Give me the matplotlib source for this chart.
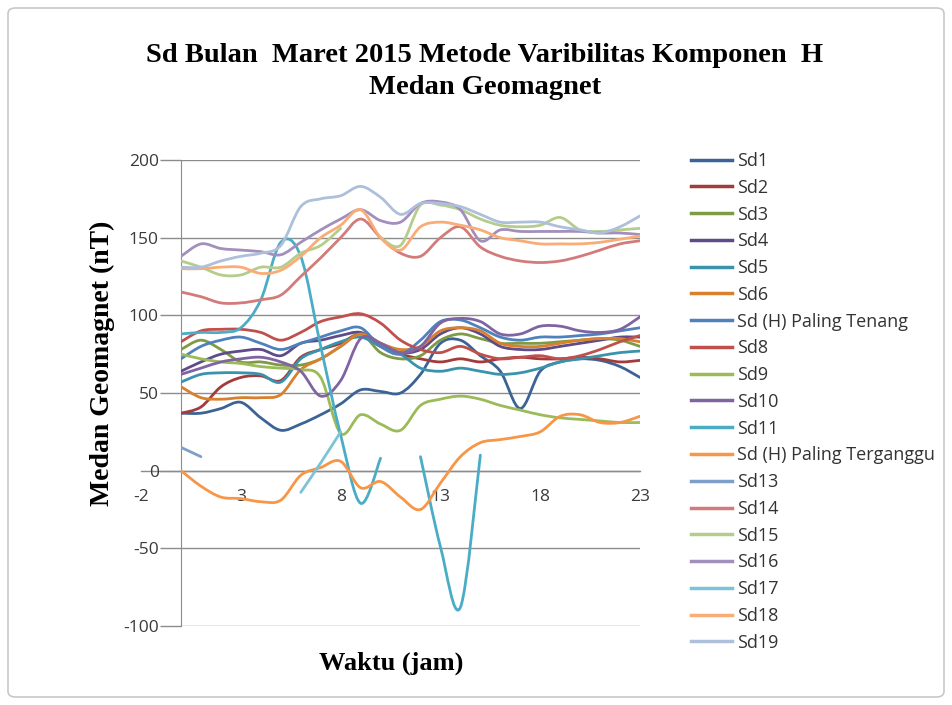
import numpy as np
import matplotlib
matplotlib.use("Agg")
import matplotlib.pyplot as plt
from matplotlib.path import Path
from matplotlib.patches import PathPatch, FancyBboxPatch
from matplotlib.lines import Line2D

plt.rcParams["axes.unicode_minus"] = False

N = None
hours = list(range(24))

sd1 = [37, 37, 40, 44, 34, 26, 30, 36, 43, 52, 51, 50, 62, 82, 84, 74, 64, 40, 64, 70, 72, 71, 67, 60]
sd2 = [37, 41, 54, 60, 61, 58, 73, 78, 82, 88, 80, 75, 72, 70, 72, 70, 72, 73, 72, 72, 73, 72, 70, 71]
sd3 = [78, 84, 78, 70, 70, 68, 68, 72, 80, 88, 76, 72, 74, 84, 88, 85, 82, 82, 82, 83, 84, 85, 84, 80]
sd4 = [64, 70, 75, 77, 78, 74, 82, 84, 87, 89, 82, 76, 78, 88, 92, 88, 80, 78, 78, 80, 82, 84, 86, 86]
sd5 = [57, 62, 63, 63, 62, 57, 72, 78, 83, 86, 80, 75, 66, 64, 66, 64, 62, 63, 66, 70, 72, 74, 76, 77]
sd6 = [54, 47, 46, 47, 47, 49, 65, 72, 80, 88, 82, 78, 80, 90, 92, 90, 82, 80, 80, 82, 84, 85, 85, 83]
sd7 = [72, 80, 84, 86, 82, 78, 82, 86, 90, 92, 80, 75, 84, 96, 97, 92, 86, 84, 86, 86, 87, 88, 90, 92]
sd8 = [83, 90, 91, 91, 89, 84, 89, 96, 99, 101, 95, 84, 78, 76, 80, 75, 72, 73, 74, 72, 74, 78, 83, 87]
sd9 = [75, 72, 70, 69, 67, 66, 65, 60, 24, 36, 30, 26, 42, 46, 48, 46, 42, 39, 36, 34, 33, 32, 31, 31]
sd10 = [62, 66, 70, 72, 73, 70, 64, 48, 58, 85, 82, 76, 80, 95, 98, 96, 88, 88, 93, 93, 90, 89, 91, 99]
sd11 = [88, 89, 89, 92, 110, 147, 138, 80, 23, -21, 8, N, 9, -49, -88, 10, N, N, N, N, N, N, N, N]
sd12 = [0, -10, -17, -18, -20, -19, -3, 2, 6, -11, -7, -17, -25, -8, 9, 18, 20, 22, 25, 35, 36, 31, 31, 35]
sd13 = [15, 9, N, N, N, N, N, N, N, N, N, N, N, N, N, N, N, N, N, N, N, N, N, N]
sd14 = [115, 112, 108, 108, 110, 113, 125, 137, 150, 162, 150, 140, 138, 150, 157, 144, 138, 135, 134, 135, 138, 142, 146, 148]
sd15 = [135, 131, 126, 126, 131, 131, 140, 145, 156, N, 150, 145, 171, 171, 168, 162, 158, 157, 158, 163, 155, 154, 155, 156]
sd16 = [138, 146, 143, 142, 141, 139, 147, 155, 162, 168, 161, 160, 172, 173, 168, 148, 155, 154, 154, 154, 154, 153, 153, 152]
sd17 = [N, N, N, N, N, N, -14, 5, 25, N, N, N, N, N, N, N, N, N, N, N, N, N, N, N]
sd18 = [130, 130, 131, 131, 127, 129, 138, 150, 158, 168, 150, 142, 157, 160, 158, 155, 150, 148, 146, 146, 146, 147, 149, 151]
sd19 = [131, 131, 135, 138, 140, 145, 170, 175, 177, 183, 176, 165, 172, 172, 170, 165, 160, 160, 160, 157, 155, 153, 157, 164]

labels = ["Sd1", "Sd2", "Sd3", "Sd4", "Sd5", "Sd6", "Sd (H) Paling Tenang", "Sd8", "Sd9",
          "Sd10", "Sd11", "Sd (H) Paling Terganggu", "Sd13", "Sd14", "Sd15", "Sd16",
          "Sd17", "Sd18", "Sd19"]
series = [sd1, sd2, sd3, sd4, sd5, sd6, sd7, sd8, sd9, sd10, sd11, sd12, sd13, sd14,
          sd15, sd16, sd17, sd18, sd19]
colors = ["#3B6396", "#A33B3A", "#7E9B44", "#5F4B87", "#3A93AC", "#D9802E",
          "#4F81BD", "#C0504D", "#9BBB59", "#8064A2", "#4BACC6", "#F79646",
          "#7F9FCB", "#D27B7A", "#B5CD8C", "#A28FBB", "#7CC3D8", "#F9AC75", "#AEBFDB"]

xticks = [-2, 3, 8, 13, 18, 23]
yticks = [-100, -50, 0, 50, 100, 150, 200]

W, H = 952, 705
fig = plt.figure(figsize=(W / 100, H / 100), dpi=100)
ax = fig.add_axes([181 / W, 1 - 626 / H, (640 - 181) / W, (626 - 160) / H])
ax.set_xlim(0, 23)
ax.set_ylim(-100, 200)

grid_c = "#8C8C8C"
for y in yticks:
    ax.axhline(y, color=grid_c, lw=1.0, zorder=1)
ax.plot([-2, 23], [0, 0], color=grid_c, lw=1.0, clip_on=False, zorder=1)
for s in ["top", "right", "bottom"]:
    ax.spines[s].set_visible(False)
ax.spines["left"].set_color(grid_c)
ax.set_xticks([])
ax.set_yticks(yticks)
ax.tick_params(axis="y", length=15, color=grid_c, width=1.0, pad=1,
               labelsize=12.5, labelcolor="#3A3A3A")
for lab in ax.get_yticklabels():
    lab.set_fontfamily("Open Sans")

for xt in xticks:
    ax.text(xt, -17, str(xt), ha="center", va="center", fontsize=12.5,
            color="#3A3A3A", family="Open Sans", clip_on=False)


def segments(vals):
    seg = []
    for h, v in zip(hours, vals):
        if v is None:
            if seg:
                yield seg
            seg = []
        else:
            seg.append((h, v))
    if seg:
        yield seg


def smooth(points):
    pts = np.array(points, dtype=float)
    n = len(pts)
    verts = [pts[0]]
    codes = [Path.MOVETO]
    for i in range(n - 1):
        p0 = pts[i - 1] if i > 0 else pts[i]
        p1 = pts[i]
        p2 = pts[i + 1]
        p3 = pts[i + 2] if i + 2 < n else pts[i + 1]
        verts += [p1 + (p2 - p0) / 6.0, p2 - (p3 - p1) / 6.0, p2]
        codes += [Path.CURVE4] * 3
    return Path(verts, codes)


handles = []
for vals, c, lab in zip(series, colors, labels):
    for seg in segments(vals):
        if len(seg) < 2:
            continue
        patch = PathPatch(smooth(seg), facecolor="none", edgecolor=c, lw=2.0,
                          capstyle="round", joinstyle="round", zorder=3)
        ax.add_patch(patch)
    handles.append(Line2D([], [], color=c, lw=2.5))

leg = fig.legend(handles, labels, loc="upper left", bbox_to_anchor=(691 / W, 1 - 152 / H),
                 frameon=False, handlelength=2.27, handletextpad=0.28,
                 labelspacing=0.485, borderaxespad=0, borderpad=0,
                 prop={"family": "Open Sans", "size": 13})
for t in leg.get_texts():
    t.set_color("#333333")

fig.text(485 / W, 1 - 55 / H, "Sd Bulan  Maret 2015 Metode Varibilitas Komponen  H",
         ha="center", va="center", fontsize=20.5, fontweight="bold", family="Liberation Serif")
fig.text(485 / W, 1 - 88 / H, "Medan Geomagnet",
         ha="center", va="center", fontsize=20.5, fontweight="bold", family="Liberation Serif")
fig.text(102 / W, 1 - 363 / H, "Medan Geomagnet (nT)", rotation=90, ha="center", va="center",
         fontsize=20, fontweight="bold", family="Liberation Serif")
fig.text(391 / W, 1 - 663 / H, "Waktu (jam)", ha="center", va="center",
         fontsize=19, fontweight="bold", family="Liberation Serif")

frame = FancyBboxPatch((8 / W, 8 / H), (W - 16) / W, (H - 16) / H,
                       boxstyle="round,pad=0,rounding_size=0.008", transform=fig.transFigure,
                       facecolor="none", edgecolor="#C8C8C8", lw=1.2)
fig.patches.append(frame)

fig.savefig("out.png", dpi=100)
